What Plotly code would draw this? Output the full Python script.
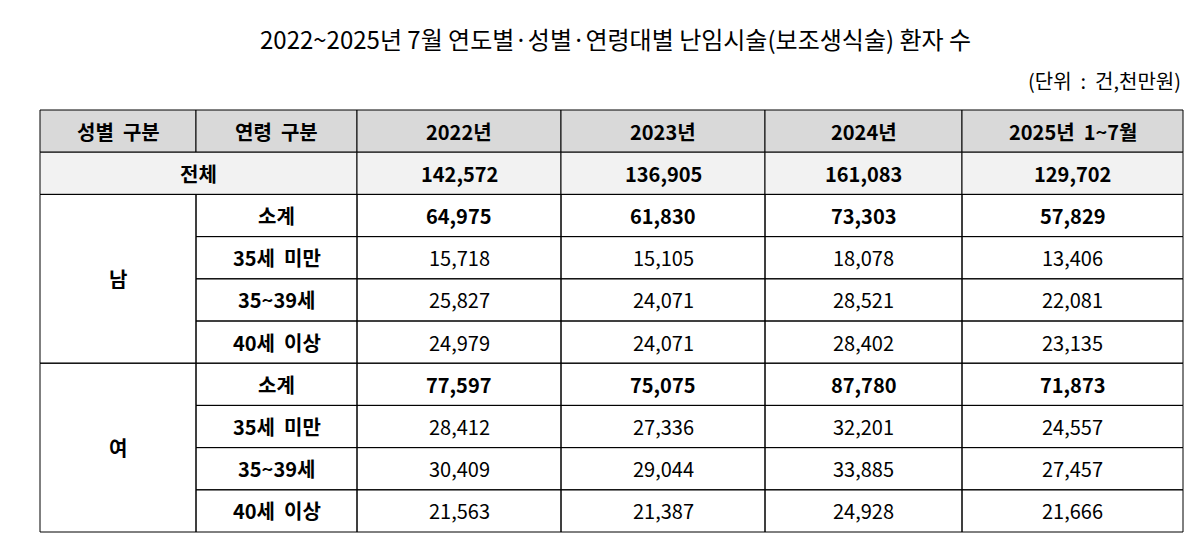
import plotly.graph_objects as go

title = "2022~2025년 7월 연도별·성별·연령대별 난임시술(보조생식술) 환자 수"
unit = "(단위  :  건,천만원)"
headers = ["성별  구분", "연령  구분", "2022년", "2023년", "2024년", "2025년  1~7월"]
total_label = "전체"
total = ["142,572", "136,905", "161,083", "129,702"]
sexes = ["남", "여"]
ages = ["소계", "35세  미만", "35~39세", "40세  이상"]
male = [
    ["64,975", "61,830", "73,303", "57,829"],
    ["15,718", "15,105", "18,078", "13,406"],
    ["25,827", "24,071", "28,521", "22,081"],
    ["24,979", "24,071", "28,402", "23,135"],
]
female = [
    ["77,597", "75,075", "87,780", "71,873"],
    ["28,412", "27,336", "32,201", "24,557"],
    ["30,409", "29,044", "33,885", "27,457"],
    ["21,563", "21,387", "24,928", "21,666"],
]

FONT = "Noto Sans CJK KR"
xs = [40, 196, 357, 561, 765, 962, 1183]
y0, hh = 110, 42.2
ys = [y0 + i * hh for i in range(11)]

fig = go.Figure()
shapes, ann = [], []

def cell(x0, x1, ya, yb, fill=None):
    shapes.append(dict(type="rect", x0=x0, x1=x1, y0=ya, y1=yb,
                       line=dict(color="black", width=1),
                       fillcolor=fill or "rgba(0,0,0,0)", layer="below"))

def txt(x, y, s, bold=False, size=20):
    ann.append(dict(x=x, y=y, text=f"<b>{s}</b>" if bold else s, showarrow=False,
                    font=dict(family=FONT, size=size, color="black")))

# header
for i, h in enumerate(headers):
    cell(xs[i], xs[i + 1], ys[0], ys[1], "#d9d9d9")
    txt((xs[i] + xs[i + 1]) / 2, (ys[0] + ys[1]) / 2, h, True)
# total row
cell(xs[0], xs[2], ys[1], ys[2], "#f2f2f2")
txt((xs[0] + xs[2]) / 2, (ys[1] + ys[2]) / 2, total_label, True)
for j, v in enumerate(total):
    cell(xs[j + 2], xs[j + 3], ys[1], ys[2], "#f2f2f2")
    txt((xs[j + 2] + xs[j + 3]) / 2, (ys[1] + ys[2]) / 2, v, True)
# groups
for g, (sex, rows) in enumerate(zip(sexes, [male, female])):
    r0 = 2 + g * 4
    cell(xs[0], xs[1], ys[r0], ys[r0 + 4])
    txt((xs[0] + xs[1]) / 2, (ys[r0] + ys[r0 + 4]) / 2, sex, True)
    for k, (age, vals) in enumerate(zip(ages, rows)):
        ya, yb = ys[r0 + k], ys[r0 + k + 1]
        cell(xs[1], xs[2], ya, yb)
        txt((xs[1] + xs[2]) / 2, (ya + yb) / 2, age, True)
        for j, v in enumerate(vals):
            cell(xs[j + 2], xs[j + 3], ya, yb)
            txt((xs[j + 2] + xs[j + 3]) / 2, (ya + yb) / 2, v, k == 0)

txt(615, 38, title, False, 24)
ann.append(dict(x=1183, y=80, text=unit, showarrow=False, xanchor="right",
                font=dict(family=FONT, size=20, color="black")))

# page body has an 8px margin; shift ranges so the table lands where it should
fig.update_layout(
    width=1200, height=540, margin=dict(l=0, r=0, t=0, b=0),
    plot_bgcolor="white", paper_bgcolor="white",
    xaxis=dict(range=[8, 1208], visible=False, fixedrange=True),
    yaxis=dict(range=[548, 8], visible=False, fixedrange=True),
    shapes=shapes, annotations=ann, showlegend=False,
)
fig.write_html("out.html")
